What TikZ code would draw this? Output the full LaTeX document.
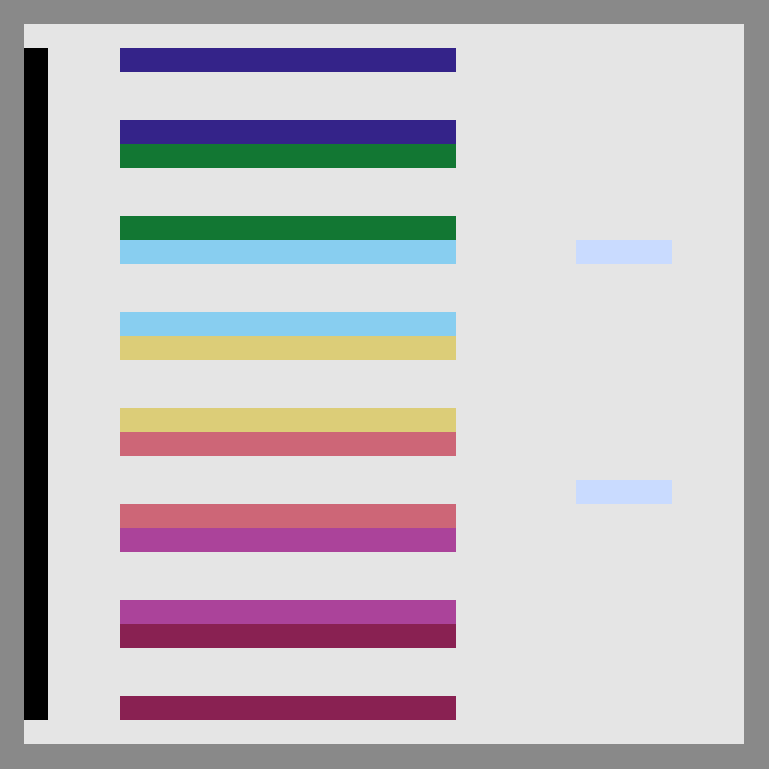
\documentclass[tikz,border=0pt]{standalone}
\usepackage{tikz}
\usetikzlibrary{positioning}

\definecolor{frame}{HTML}{888888}
\definecolor{panel}{HTML}{E6E6E6}
\definecolor{cindigo}{HTML}{332288}
\definecolor{cgreen}{HTML}{117733}
\definecolor{ccyan}{HTML}{88CCEE}
\definecolor{csand}{HTML}{DDCC77}
\definecolor{crose}{HTML}{CC6677}
\definecolor{cpurple}{HTML}{AA4499}
\definecolor{cwine}{HTML}{882255}
\definecolor{cpale}{HTML}{C6DBFF}

\begin{document}
\begin{tikzpicture}[x=1pt, y=-1pt]

% --- Frame and panel ---
\fill[frame] (0, 0) rectangle (769, 769);
\useasboundingbox (0, 0) rectangle (769, 769);
\fill[panel] (24, 24) rectangle (744, 744);

% --- Left bar ---
\fill[black] (24, 48) rectangle (48, 720);

% --- Colour stripes ---
\foreach \y/\col in {48/cindigo, 120/cindigo, 144/cgreen, 216/cgreen, 240/ccyan,
  312/ccyan, 336/csand, 408/csand, 432/crose, 504/crose, 528/cpurple,
  600/cpurple, 624/cwine, 696/cwine} {
  \fill[\col] (120, \y) rectangle (456, \y+24);
}

% --- Pale markers ---
\foreach \y in {240, 480} {
  \fill[cpale] (576, \y) rectangle (672, \y+24);
}

\end{tikzpicture}
\end{document}
